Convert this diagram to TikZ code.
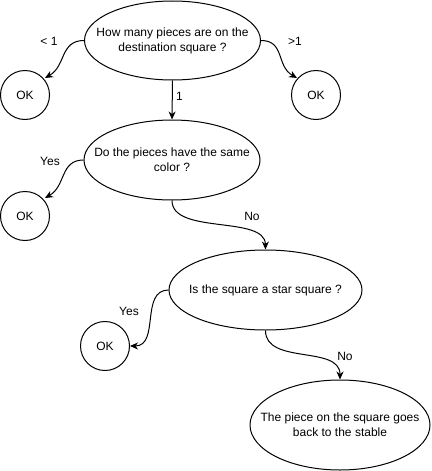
\documentclass[tikz,border=0pt]{standalone}
\usepackage{fontspec}
\setmainfont{Liberation Sans}
\usetikzlibrary{shapes.geometric,arrows.meta}
\begin{document}
\begin{tikzpicture}[x=1pt,y=-1pt,line width=1pt,
  every node/.style={font=\fontsize{12}{15}\selectfont},
  dec/.style={draw,ellipse,inner sep=0pt},
  txt/.style={align=center,inner sep=0pt},
  okc/.style={draw,circle,minimum size=49pt,inner sep=0pt},
  lbl/.style={fill=white,inner sep=1pt},
  arr/.style={-{Stealth[length=8pt,width=7pt,inset=2.5pt]}}]
\useasboundingbox (0,0) rectangle (431,471);
\node[dec,minimum width=176pt,minimum height=79pt] (e1) at (172.5,40.5) {};
\node[txt] (t1) at (e1) {How many pieces are on the\\destination square ?};
\node[okc] (okl) at (25,95) {OK};
\node[okc] (okr) at (316,95) {OK};
\node[dec,minimum width=176pt,minimum height=80pt] (e2) at (172,160) {};
\node[txt] (t2) at (e2) {Do the pieces have the same\\color ?};
\node[okc] (ok2) at (25,216) {OK};
\node[dec,minimum width=193pt,minimum height=80pt] (e3) at (265.5,290) {};
\node[txt] (t3) at (e3) {Is the square a star square ?};
\node[okc] (ok3) at (105,346) {OK};
\node[dec,minimum width=180pt,minimum height=90pt] (e4) at (340,425) {};
\node[txt] (t4) at (e4) {The piece on the square goes\\back to the stable};
\coordinate (a1) at (45,78);
\coordinate (a2) at (297,78);
\coordinate (a3) at (45,198);
\draw[arr] (e1.west) .. controls (60,40.5) and (66,66) .. (a1);
\draw[arr] (e1.east) .. controls (285,40.5) and (276,66) .. (a2);
\draw[arr] (e1.south) -- (e2.north);
\draw[arr] (e2.west) .. controls (60,160) and (66,186) .. (a3);
\draw[arr] (e2.south) .. controls (172,235) and (265,215) .. (e3.north);
\draw[arr] (e3.west) .. controls (140,290) and (160,346) .. (ok3.east);
\draw[arr] (e3.south) .. controls (265.5,365) and (340,345) .. (e4.north);
\node[lbl] (l1) at (49,41) {< 1};
\node[lbl] (l2) at (295,41) {>1};
\node[lbl] (l3) at (179.5,96) {1};
\node[lbl] (l4) at (50,161) {Yes};
\node[lbl] (l5) at (252,216) {No};
\node[lbl] (l6) at (129,311) {Yes};
\node[lbl] (l7) at (345,356) {No};
\end{tikzpicture}
\end{document}
